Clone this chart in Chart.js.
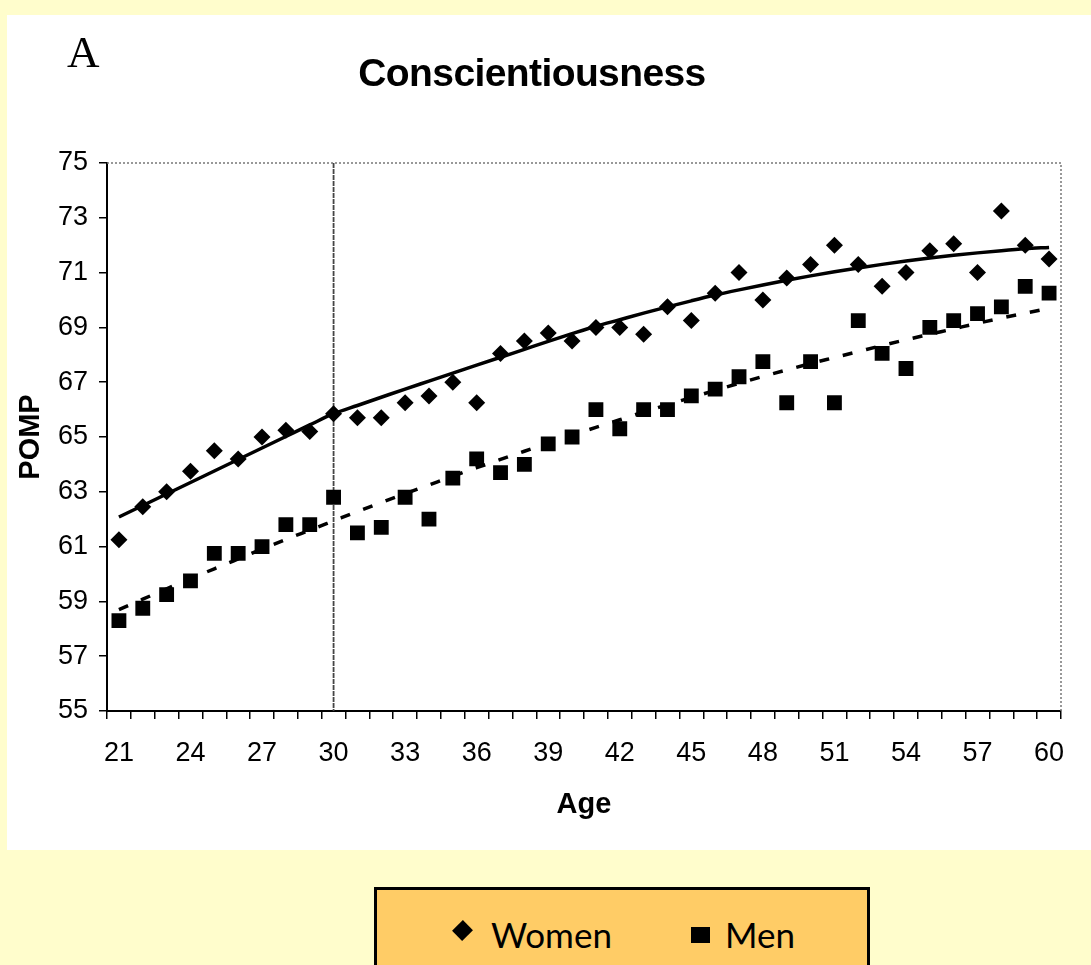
<!DOCTYPE html>
<html>
<head>
<meta charset="utf-8">
<title>Conscientiousness</title>
<script src="https://cdn.jsdelivr.net/npm/chart.js@4.4.0/dist/chart.umd.min.js"></script>
<style>
  body { margin: 0; width: 1091px; height: 965px; overflow: hidden; position: relative; background: #fffdcc; }
  #panel { position: absolute; left: 7px; top: 15px; width: 1084px; height: 835px; background: #fff; }
  #chart { position: absolute; left: 7px; top: 15px; }
  #letter { position: absolute; left: 67px; top: 30px; font-family: 'Liberation Serif', serif; font-size: 45px; line-height: 1; }
  #title { position: absolute; left: 332px; width: 400px; top: 53px; text-align: center; font-family: 'Liberation Sans', Arial, sans-serif; font-weight: bold; font-size: 39px; letter-spacing: -0.6px; line-height: 1; }
  #legend { position: absolute; left: 374px; top: 887px; width: 490px; height: 100px; background: #ffcc66; border: 3px solid #000; }
  .item { position: absolute; top: 23px; font-family: Lato, 'Open Sans', sans-serif; font-size: 35px; line-height: 1.2; }
  .mark { position: absolute; background: #000; }
</style>
</head>
<body>
<div id="panel"></div>
<canvas id="chart" width="1084" height="835"></canvas>
<div id="letter">A</div>
<div id="title">Conscientiousness</div>
<div id="legend">
  <span class="mark" style="left:78px;top:33px;width:15px;height:15px;transform:rotate(45deg) scale(0.95, 1.02);"></span>
  <span class="item" style="left:114px;">Women</span>
  <span class="mark" style="left:314px;top:37px;width:19px;height:16px;"></span>
  <span class="item" style="left:348px;">Men</span>
</div>

<script>
// ages on the x axis
const ages = [21, 22, 23, 24, 25, 26, 27, 28, 29, 30,
              31, 32, 33, 34, 35, 36, 37, 38, 39, 40,
              41, 42, 43, 44, 45, 46, 47, 48, 49, 50,
              51, 52, 53, 54, 55, 56, 57, 58, 59, 60];

// POMP means per age
const women = [61.25, 62.45, 63.0, 63.75, 64.5, 64.2, 65.0, 65.25, 65.2, 65.85,
               65.7, 65.7, 66.25, 66.5, 67.0, 66.25, 68.05, 68.5, 68.8, 68.5,
               69.0, 69.0, 68.75, 69.75, 69.25, 70.25, 71.0, 70.0, 70.8, 71.3,
               72.0, 71.3, 70.5, 71.0, 71.8, 72.05, 71.0, 73.25, 72.0, 71.5];

const men = [58.3, 58.75, 59.25, 59.75, 60.75, 60.75, 61.0, 61.8, 61.8, 62.8,
             61.5, 61.7, 62.8, 62.0, 63.5, 64.2, 63.7, 64.0, 64.75, 65.0,
             66.0, 65.3, 66.0, 66.0, 66.5, 66.75, 67.2, 67.75, 66.25, 67.75,
             66.25, 69.25, 68.05, 67.5, 69.0, 69.25, 69.5, 69.75, 70.5, 70.25];

// fitted curves
const womenFit = [62.08, 62.5, 62.92, 63.34, 63.76, 64.18, 64.6, 65.02, 65.44, 65.85,
                  66.15, 66.45, 66.75, 67.04, 67.33, 67.62, 67.91, 68.2, 68.49, 68.77,
                  69.04, 69.28, 69.52, 69.75, 69.97, 70.18, 70.37, 70.55, 70.72, 70.88,
                  71.03, 71.17, 71.3, 71.42, 71.53, 71.63, 71.72, 71.8, 71.87, 71.92];

const menFit = [58.7, 59.08, 59.46, 59.83, 60.19, 60.55, 60.91, 61.26, 61.6, 61.94,
                62.28, 62.61, 62.93, 63.25, 63.57, 63.88, 64.18, 64.48, 64.78, 65.07,
                65.35, 65.63, 65.91, 66.18, 66.44, 66.7, 66.96, 67.21, 67.45, 67.68,
                67.9, 68.12, 68.34, 68.55, 68.75, 68.95, 69.15, 69.34, 69.52, 69.7];

const yTicks = [55, 57, 59, 61, 63, 65, 67, 69, 71, 73, 75];
const markAge = 30;

const narrow = "'Liberation Sans Narrow', 'Liberation Sans', Arial, sans-serif";
const plain = "'Liberation Sans', Arial, sans-serif";

Chart.defaults.color = '#000';
Chart.defaults.font.family = narrow;

// dotted frame on top / right and the line at age 30
const framePlugin = {
  id: 'frame',
  beforeDatasetsDraw(chart) {
    const ctx = chart.ctx;
    const a = chart.chartArea;
    ctx.save();
    ctx.strokeStyle = '#777';
    ctx.lineWidth = 1.5;
    ctx.setLineDash([2, 2]);
    ctx.beginPath();
    ctx.moveTo(a.left, a.top);
    ctx.lineTo(a.right, a.top);
    ctx.lineTo(a.right, a.bottom);
    ctx.stroke();

    var x30 = chart.scales.x.getPixelForValue(ages.indexOf(markAge));
    ctx.strokeStyle = '#444';
    ctx.lineWidth = 1.8;
    ctx.setLineDash([5, 1]);
    ctx.beginPath();
    ctx.moveTo(x30, a.top);
    ctx.lineTo(x30, a.bottom);
    ctx.stroke();
    ctx.restore();
  }
};

const ctx = document.getElementById('chart').getContext('2d');
new Chart(ctx, {
  type: 'line',
  data: {
    labels: ages.map(String),
    datasets: [
      {
        label: 'Women',
        data: women,
        showLine: false,
        pointStyle: 'rectRot',
        pointRadius: 8.5,
        pointBackgroundColor: '#000',
        pointBorderColor: '#000',
        pointBorderWidth: 0
      },
      {
        label: 'Men',
        data: men,
        showLine: false,
        pointStyle: 'rect',
        pointRadius: 10.5,
        pointBackgroundColor: '#000',
        pointBorderColor: '#000',
        pointBorderWidth: 0
      },
      {
        label: 'Women fit',
        data: womenFit,
        borderColor: '#000',
        borderWidth: 3.5,
        pointRadius: 0,
        cubicInterpolationMode: 'monotone'
      },
      {
        label: 'Men fit',
        data: menFit,
        borderColor: '#000',
        borderWidth: 3.5,
        borderDash: [10, 14],
        pointRadius: 0,
        cubicInterpolationMode: 'monotone'
      }
    ]
  },
  options: {
    responsive: false,
    animation: false,
    events: [],
    layout: { padding: { top: 148, right: 30, left: 0, bottom: 0 } },
    plugins: {
      legend: { display: false },
      tooltip: { enabled: false }
    },
    scales: {
      x: {
        offset: true,
        afterFit: s => { s.height = 139; },
        border: { display: true, color: '#000', width: 2 },
        grid: { drawOnChartArea: false, drawTicks: true, tickLength: 8, color: '#000', lineWidth: 1.5, offset: true },
        ticks: {
          autoSkip: false,
          maxRotation: 0,
          padding: 18,
          font: { size: 27 },
          callback: (v, i) => (i % 3 === 0 ? ages[i] : '')
        },
        title: {
          display: true,
          text: 'Age',
          font: { family: plain, size: 29, weight: 'bold' },
          padding: { top: 0, bottom: 28 }
        }
      },
      y: {
        min: 55,
        max: 75,
        afterFit: s => { s.width = 100; },
        afterBuildTicks: s => { s.ticks = yTicks.map(v => ({ value: v })); },
        border: { display: true, color: '#000', width: 2 },
        grid: { drawOnChartArea: false, drawTicks: true, tickLength: 8, color: '#000', lineWidth: 1.5 },
        ticks: { padding: 11, font: { size: 27 } },
        title: {
          display: true,
          text: 'POMP',
          font: { family: plain, size: 29, weight: 'bold' },
          padding: { top: 7, bottom: 0 }
        }
      }
    }
  },
  plugins: [framePlugin]
});
</script>
</body>
</html>
